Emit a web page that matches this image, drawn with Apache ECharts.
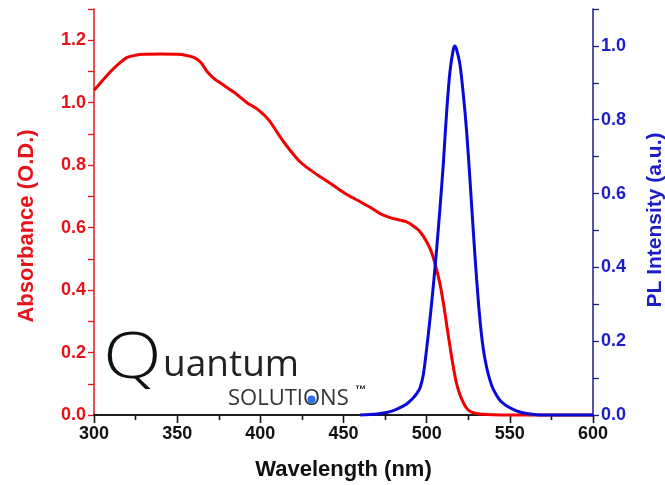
<!DOCTYPE html>
<html>
<head>
<meta charset="utf-8">
<script src="https://cdn.jsdelivr.net/npm/echarts@6/dist/echarts.min.js"></script>
<style>
  html, body { margin: 0; padding: 0; background: #fff; }
  #chart { width: 665px; height: 485px; }
</style>
</head>
<body>
<div id="chart"></div>
<script>
// absorbance curve
const absNm = [300, 305, 310, 315, 320, 325, 330, 340, 350, 355, 360, 364, 368, 372, 378, 385, 392, 398, 405, 412, 418, 424, 430, 436, 442, 448, 454, 460, 466, 472, 478, 484, 488, 492, 496, 500, 503, 506, 508, 510, 512, 514, 516, 518, 520, 522, 524, 526, 528, 532, 540, 550, 600]
const absVal = [1.04, 1.07, 1.10, 1.125, 1.145, 1.152, 1.155, 1.156, 1.155, 1.152, 1.145, 1.13, 1.10, 1.078, 1.056, 1.03, 1.0, 0.98, 0.945, 0.89, 0.847, 0.81, 0.785, 0.763, 0.742, 0.72, 0.70, 0.683, 0.665, 0.645, 0.632, 0.624, 0.618, 0.605, 0.587, 0.555, 0.52, 0.465, 0.42, 0.36, 0.29, 0.22, 0.155, 0.10, 0.065, 0.04, 0.022, 0.012, 0.007, 0.003, 0.001, 0, 0]

// PL emission curve
const plNm = [460, 470, 476, 480, 484, 488, 490, 492, 494, 496, 498, 500, 502, 504, 506, 508, 510, 512, 514, 516, 517, 518, 520, 522, 524, 526, 528, 530, 532, 534, 536, 538, 540, 544, 548, 552, 556, 560, 566, 570, 600]
const plVal = [0, 0.003, 0.007, 0.012, 0.02, 0.03, 0.038, 0.047, 0.058, 0.073, 0.11, 0.18, 0.26, 0.35, 0.45, 0.56, 0.68, 0.82, 0.93, 0.99, 1.0, 0.99, 0.95, 0.87, 0.77, 0.64, 0.50, 0.37, 0.26, 0.18, 0.13, 0.095, 0.07, 0.04, 0.025, 0.015, 0.008, 0.004, 0.001, 0, 0]

const xTicks = [300, 350, 400, 450, 500, 550, 600]
const leftTicks = [0, 0.2, 0.4, 0.6, 0.8, 1.0, 1.2]
const rightTicks = [0, 0.2, 0.4, 0.6, 0.8, 1.0]

const RED = '#e8121a'
const BLUE = '#1c1cc8'
const NAVY = '#1a1a8c'
const FONT = 'Liberation Sans'

const chart = echarts.init(document.getElementById('chart'))

// only every other tick (0.1 steps) carries a label
const evenLabel = (ticks, color) => ({
  color: color,
  fontFamily: FONT,
  fontWeight: 'bold',
  fontSize: 18,
  margin: 8,
  formatter: v => {
    const hit = ticks.find(t => Math.abs(t - v) < 1e-6)
    return hit === undefined ? '' : hit.toFixed(1)
  }
})

const yTick = (color) => ({ show: true, length: 6, lineStyle: { color: color, width: 1.3 } })

// logo: place blue dot in the second "O" of SOLUTIONS
const solLeft = 228, solSize = 22
const ctx = document.createElement('canvas').getContext('2d')
ctx.font = solSize + 'px "Open Sans"'
const dotX = solLeft + ctx.measureText('SOLUTI').width + ctx.measureText('O').width / 2

const option = {
  animation: false,
  backgroundColor: '#fff',
  grid: { left: 94, right: 72, top: 9, bottom: 70, outerBoundsMode: 'none' },
  xAxis: [
    {
      type: 'value',
      min: xTicks[0],
      max: xTicks[xTicks.length - 1],
      interval: 50,
      name: 'Wavelength (nm)',
      nameLocation: 'middle',
      nameGap: 44,
      nameTextStyle: { color: '#111', fontFamily: FONT, fontWeight: 'bold', fontSize: 22 },
      axisLine: { lineStyle: { color: '#111', width: 1.5 } },
      axisTick: { length: 8, lineStyle: { color: '#111', width: 1.3 } },
      minorTick: { show: true, splitNumber: 2, length: 5, lineStyle: { color: '#111', width: 1.3 } },
      axisLabel: { color: '#111', fontFamily: FONT, fontWeight: 'bold', fontSize: 18, margin: 10 },
      splitLine: { show: false }
    },
    {
      type: 'value',
      position: 'top',
      min: xTicks[0],
      max: xTicks[xTicks.length - 1],
      interval: 50,
      axisLine: { lineStyle: { color: '#111', width: 1.5 } },
      axisTick: { inside: true, length: 8, lineStyle: { color: '#111', width: 1.3 } },
      minorTick: { show: true, splitNumber: 2, length: 5, lineStyle: { color: '#111', width: 1.3 } },
      axisLabel: { show: false },
      splitLine: { show: false }
    }
  ],
  yAxis: [
    {
      type: 'value',
      min: 0,
      max: 1.3,
      interval: 0.1,
      name: 'Absorbance (O.D.)',
      nameLocation: 'middle',
      nameGap: 56,
      nameTextStyle: { color: RED, fontFamily: FONT, fontWeight: 'bold', fontSize: 22, padding: [0, 28, 0, 0] },
      axisLine: { show: true, lineStyle: { color: RED, width: 1.5 } },
      axisTick: yTick(RED),
      axisLabel: evenLabel(leftTicks, RED),
      splitLine: { show: false }
    },
    {
      type: 'value',
      position: 'right',
      min: 0,
      max: 1.1,
      interval: 0.1,
      name: 'PL Intensity (a.u.)',
      nameLocation: 'middle',
      nameGap: 52,
      nameTextStyle: { color: BLUE, fontFamily: FONT, fontWeight: 'bold', fontSize: 21, padding: [0, 16, 0, 0] },
      axisLine: { show: true, lineStyle: { color: NAVY, width: 1.5 } },
      axisTick: yTick(NAVY),
      axisLabel: evenLabel(rightTicks, BLUE),
      splitLine: { show: false }
    }
  ],
  graphic: [
    { type: 'text', left: 103, top: 328, scaleX: 1.2, style: { text: 'Q', fontFamily: 'Open Sans', fontWeight: 300, fontSize: 64, fill: '#111' } },
    { type: 'text', left: 163, top: 347, style: { text: 'uantum', fontFamily: 'Open Sans', fontSize: 37, fill: '#222' } },
    { type: 'text', left: solLeft, top: 388, style: { text: 'SOLUTIONS', fontFamily: 'Open Sans', fontSize: solSize, fill: '#333' } },
    { type: 'circle', shape: { cx: dotX, cy: 399.5, r: 4 }, style: { fill: '#2f6fe8' } },
    { type: 'text', left: 355, top: 384, style: { text: '™', fontFamily: FONT, fontWeight: 'bold', fontSize: 11, fill: '#222' } }
  ],
  series: [
    {
      name: 'Absorbance',
      type: 'line',
      xAxisIndex: 0,
      yAxisIndex: 0,
      showSymbol: false,
      smooth: 0.3,
      clip: false,
      lineStyle: { color: '#f00000', width: 3 },
      data: absNm.map((x, i) => [x, absVal[i]])
    },
    {
      name: 'PL',
      type: 'line',
      xAxisIndex: 0,
      yAxisIndex: 1,
      showSymbol: false,
      smooth: 0.3,
      clip: false,
      lineStyle: { color: '#0a0ad8', width: 3 },
      data: plNm.map((x, i) => [x, plVal[i]])
    }
  ]
}

chart.setOption(option)
</script>
</body>
</html>
